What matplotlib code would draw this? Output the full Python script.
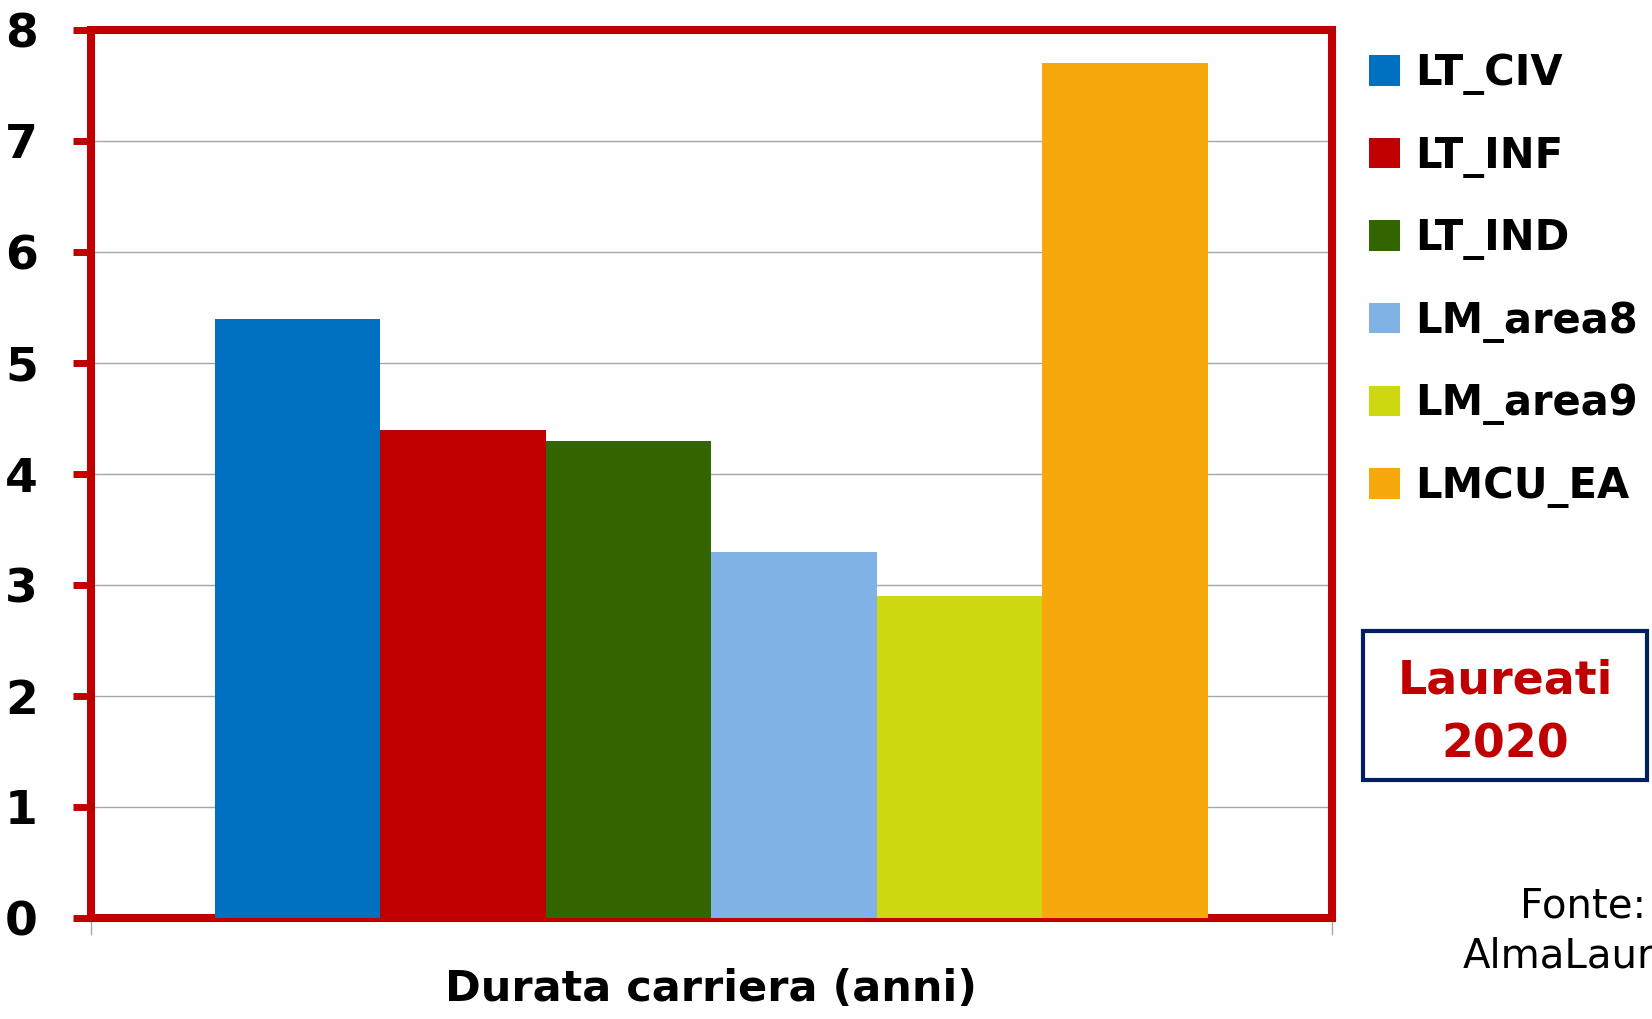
import matplotlib
matplotlib.use("Agg")
import matplotlib.pyplot as plt
from matplotlib.patches import Rectangle

# ---- data ----
series = ["LT_CIV", "LT_INF", "LT_IND", "LM_area8", "LM_area9", "LMCU_EA"]
values = [5.4, 4.4, 4.3, 3.3, 2.9, 7.7]
colors = ["#0070C0", "#C00000", "#336600", "#80B2E5", "#CED811", "#F7A80D"]
y_ticks = [0, 1, 2, 3, 4, 5, 6, 7, 8]
x_label = "Durata carriera (anni)"
box_lines = ["Laureati", "2020"]
source_lines = ["Fonte:", "AlmaLaurea"]

W, H = 1652, 1019
fig = plt.figure(figsize=(W / 100, H / 100), dpi=100)
plt.rcParams["font.family"] = ["DejaVu Sans"]

RED = "#C00000"
ax = fig.add_axes([90.6 / W, 1 - 918 / H, (1332 - 90.6) / W, (918 - 30) / H])

n = len(values)
group_w = 0.8
bw = group_w / n
handles = []
for i, (v, c, lab) in enumerate(zip(values, colors, series)):
    xc = 0.5 - group_w / 2 + (i + 0.5) * bw
    b = ax.bar(xc, v, width=bw, color=c, label=lab, zorder=3, linewidth=0)
    handles.append(b)

ax.set_xlim(0, 1)
ax.set_ylim(0, 8)
ax.set_yticks(y_ticks)
ax.set_yticklabels([str(t) for t in y_ticks], fontsize=34, fontweight="bold")
ax.yaxis.grid(True, color="#A6A6A6", linewidth=1.0, zorder=0)
ax.set_axisbelow(True)

for s in ax.spines.values():
    s.set_color(RED)
    s.set_linewidth(5.8)
ax.tick_params(axis="y", colors=RED, length=13, width=5, pad=25,
               labelcolor="black")
ax.set_xticks([0, 1])
ax.set_xticklabels(["", ""])
ax.tick_params(axis="x", colors="#A6A6A6", length=12.5, width=1, direction="out")

ax.set_xlabel(x_label, fontsize=31, fontweight="bold", labelpad=20)

# legend
fig.legend(handles=handles, labels=series, loc="upper left",
           bbox_to_anchor=(1369 / W, 1 - 52 / H), frameon=False,
           prop={"weight": "bold", "size": 30},
           handlelength=0.75, handleheight=0.75, handletextpad=0.35,
           labelspacing=0.95, borderpad=0, borderaxespad=0)

# Laureati box
rect = Rectangle((1363 / W, 1 - 780 / H), (1647 - 1363) / W, (780 - 631) / H,
                 transform=fig.transFigure, fill=False, edgecolor="#002060",
                 linewidth=3)
fig.add_artist(rect)
fig.text(1505 / W, 1 - 693 / H, box_lines[0], ha="center", va="baseline",
         fontsize=33, fontweight="bold", color=RED)
fig.text(1505 / W, 1 - 757 / H, box_lines[1], ha="center", va="baseline",
         fontsize=33, fontweight="bold", color=RED)

# source
fig.text(1583 / W, 1 - 918 / H, source_lines[0], ha="center", va="baseline",
         fontsize=29, color="black")
fig.text(1583 / W, 1 - 968 / H, source_lines[1], ha="center", va="baseline",
         fontsize=29, color="black")

fig.savefig("out.png", dpi=100)
